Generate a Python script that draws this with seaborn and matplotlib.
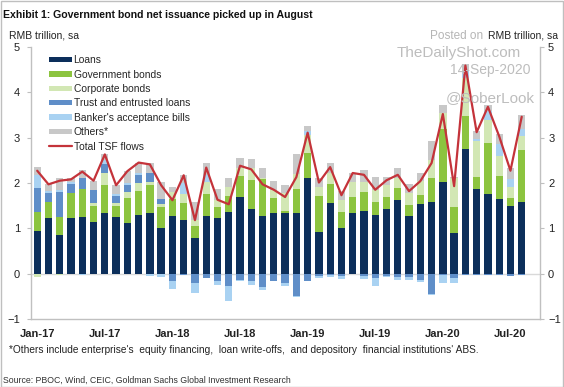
import numpy as np
import pandas as pd
import matplotlib
matplotlib.use("Agg")
import matplotlib.pyplot as plt
from matplotlib.patches import Patch, Rectangle
from matplotlib.lines import Line2D
import seaborn as sns

# monthly TSF components, RMB trillion (Jan-17 .. Aug-20)
months = pd.date_range("2017-01-01", periods=44, freq="MS")

loans = [0.94, 1.22, 0.85, 1.23, 1.25, 1.13, 1.34, 1.26, 1.12, 1.30, 1.34, 1.00,
         1.27, 1.19, 0.79, 1.28, 1.22, 1.35, 1.68, 1.42, 1.28, 1.33, 1.34, 1.34,
         2.10, 0.91, 1.56, 1.00, 1.33, 1.39, 1.30, 1.43, 1.63, 1.27, 1.54, 1.57,
         2.02, 0.90, 2.75, 1.87, 1.75, 1.65, 1.50, 1.59]
govt = [0.43, 0.35, 0.41, 0.54, 0.62, 0.36, 0.62, 0.23, 0.54, 0.52, 0.62, 0.47,
        0.38, 0.37, 0.26, 0.47, 0.25, 0.37, 0.47, 0.65, 0.80, 0.33, 0.04, 0.53,
        0.56, 0.80, 0.41, 0.37, 0.37, 0.42, 0.28, 0.25, 0.27, 0.25, 0.19, 0.55,
        1.16, 0.56, 0.72, 0.27, 1.13, 0.50, 0.17, 1.14]
corp = [-0.08, 0.00, -0.03, 0.00, 0.00, 0.07, 0.25, 0.06, 0.14, 0.19, 0.06, 0.07,
        0.16, 0.19, 0.13, 0.28, 0.16, 0.19, 0.19, 0.26, 0.03, 0.19, 0.39, 0.33,
        0.40, 0.21, 0.26, 0.25, 0.33, 0.22, 0.27, 0.27, 0.21, 0.25, 0.31, 0.38,
        0.36, 0.66, 0.85, 0.79, 0.51, 0.45, 0.24, 0.30]
trust = [0.51, 0.21, 0.55, 0.21, 0.25, 0.28, 0.21, 0.17, 0.16, 0.16, 0.20, 0.10,
         -0.17, -0.03, -0.20, -0.09, -0.17, -0.28, -0.15, -0.17, -0.30, -0.16, -0.21, -0.49,
         -0.16, -0.06, -0.04, -0.06, -0.01, -0.05, -0.10, -0.05, -0.07, -0.07, -0.15, -0.45,
         -0.03, -0.10, -0.02, -0.02, -0.02, -0.04, -0.06, -0.04]
banker = [0.30, 0.05, 0.04, 0.04, -0.04, 0.00, 0.09, 0.04, 0.05, 0.05, -0.05, -0.08,
          -0.16, 0.26, -0.22, 0.15, -0.07, -0.32, -0.02, -0.08, -0.07, -0.01, -0.06, -0.03,
          0.09, -0.04, -0.03, -0.05, 0.00, -0.07, -0.18, -0.03, -0.07, -0.08, -0.03, -0.02,
          -0.18, -0.10, 0.15, 0.03, 0.19, 0.26, 0.17, 0.15]
others = [0.17, 0.15, 0.25, 0.10, 0.16, 0.21, 0.12, 0.19, 0.25, 0.21, 0.22, 0.39,
          0.10, 0.17, 0.41, 0.26, 0.23, 0.20, 0.20, 0.20, 0.23, 0.19, 0.19, 0.44,
          0.11, 0.20, 0.20, 0.20, 0.20, 0.26, 0.28, 0.19, 0.22, 0.21, 0.18, 0.42,
          0.18, 0.02, 0.15, 0.18, 0.14, 0.23, 0.25, 0.32]
total_tsf = [2.27, 1.97, 2.05, 2.08, 2.25, 2.05, 2.63, 1.95, 2.26, 2.45, 2.41, 1.95,
             1.62, 2.17, 1.18, 2.34, 1.63, 1.53, 2.38, 2.30, 1.97, 1.85, 1.69, 2.13,
             3.11, 2.01, 2.35, 1.73, 2.22, 2.18, 1.85, 2.06, 2.18, 1.82, 2.04, 2.44,
             3.52, 1.93, 4.59, 3.12, 3.68, 3.03, 2.27, 3.46]

series = ["Loans", "Government bonds", "Corporate bonds", "Trust and entrusted loans",
          "Banker's acceptance bills", "Others*"]
colors = ["#0c2f5b", "#8cc43f", "#d2e7b4", "#5f8ec8", "#a9d2f2", "#c8c8c8"]

df = pd.DataFrame({"month": months, "Loans": loans, "Government bonds": govt,
                   "Corporate bonds": corp, "Trust and entrusted loans": trust,
                   "Banker's acceptance bills": banker, "Others*": others,
                   "Total TSF flows": total_tsf})
df["pos"] = np.arange(len(df))

sns.set_style("white")
plt.rcParams["font.family"] = ["Liberation Sans", "DejaVu Sans"]

fig = plt.figure(figsize=(5.64, 3.87), dpi=100)
ax = fig.add_axes([0.055, 0.1757, 0.902, 0.703])

# zero line behind bars
ax.axhline(0, color="#d9d9d9", linewidth=1, zorder=0)

# stacked bars, positives up and negatives down (Excel style)
pos_bottom = np.zeros(len(df))
neg_bottom = np.zeros(len(df))
for name, col in zip(series, colors):
    vals = df[name].values
    bottom = np.where(vals >= 0, pos_bottom, neg_bottom)
    ax.bar(df["pos"], vals, bottom=bottom, width=0.65, color=col, linewidth=0, zorder=2)
    pos_bottom = pos_bottom + np.clip(vals, 0, None)
    neg_bottom = neg_bottom + np.clip(vals, None, 0)

sns.lineplot(data=df, x="pos", y="Total TSF flows", color="#c4333a", linewidth=1.6,
             ax=ax, zorder=3)

ax.set_xlim(-0.55, 44.6)
ax.set_ylim(-1, 5)
ax.set_yticks(range(-1, 6))
ax.set_xlabel("")
ax.set_ylabel("")
tick_pos = df["pos"].values[::6]
ax.set_xticks(tick_pos)
ax.set_xticklabels([d.strftime("%b-%y") for d in df["month"].iloc[::6]],
                   fontsize=8, color="#222222", fontweight="bold")
ax.tick_params(axis="x", length=0, pad=7)
ax.tick_params(axis="y", labelsize=8, colors="#222222", length=3, color="#bfbfbf", pad=5)

for side in ["left", "right", "bottom"]:
    ax.spines[side].set_color("#c0c0c0")
    ax.spines[side].set_linewidth(1)
ax.spines["top"].set_visible(False)

ax2 = ax.twinx()
ax2.set_ylim(-1, 5)
ax2.set_yticks(range(-1, 6))
ax2.tick_params(axis="y", labelsize=8, colors="#222222", length=3, color="#bfbfbf", pad=3)
for s in ax2.spines.values():
    s.set_visible(False)

handles = [Patch(facecolor=c, edgecolor="none", label=n) for n, c in zip(series, colors)]
handles.append(Line2D([0], [0], color="#c4333a", linewidth=1.6, label="Total TSF flows"))
ax.legend(handles=handles, loc="upper left", bbox_to_anchor=(0.028, 0.985), frameon=False,
          fontsize=7.4, handlelength=2.2, handleheight=0.45, handletextpad=0.15,
          labelspacing=0.43, borderaxespad=0)

# watermark
fig.text(0.814, 0.862, "TheDailyShot.com", fontsize=11, color="#bdbdbd", ha="center", va="center")
fig.text(0.941, 0.818, "14-Sep-2020", fontsize=10, color="#bdbdbd", ha="right", va="center")
fig.text(0.948, 0.748, "@SoberLook", fontsize=11, color="#bdbdbd", ha="right", va="center")
fig.text(0.762, 0.907, "Posted on", fontsize=8.5, color="#b5b5b5", ha="left", va="center")

fig.text(0.006, 0.962, "Exhibit 1: Government bond net issuance picked up in August",
         fontsize=7.6, fontweight="bold", color="#111111", ha="left", va="center")
fig.text(0.016, 0.907, "RMB trillion, sa", fontsize=7.5, color="#222222", ha="left", va="center")
fig.text(0.990, 0.907, "RMB trillion, sa", fontsize=7.5, color="#222222", ha="right", va="center")
fig.text(0.016, 0.095, "*Others include enterprise's  equity financing,  loan write-offs,  and depository  financial institutions' ABS.",
         fontsize=7.3, color="#222222", ha="left", va="center")
fig.text(0.006, 0.016, "Source: PBOC, Wind, CEIC, Goldman Sachs Global Investment Research",
         fontsize=6.3, color="#333333", ha="left", va="center")

fig.patches.append(Rectangle((0.001, 0.001), 0.997, 0.997, transform=fig.transFigure,
                             fill=False, edgecolor="#bfbfbf", linewidth=1))

fig.savefig("out.png", dpi=100)
